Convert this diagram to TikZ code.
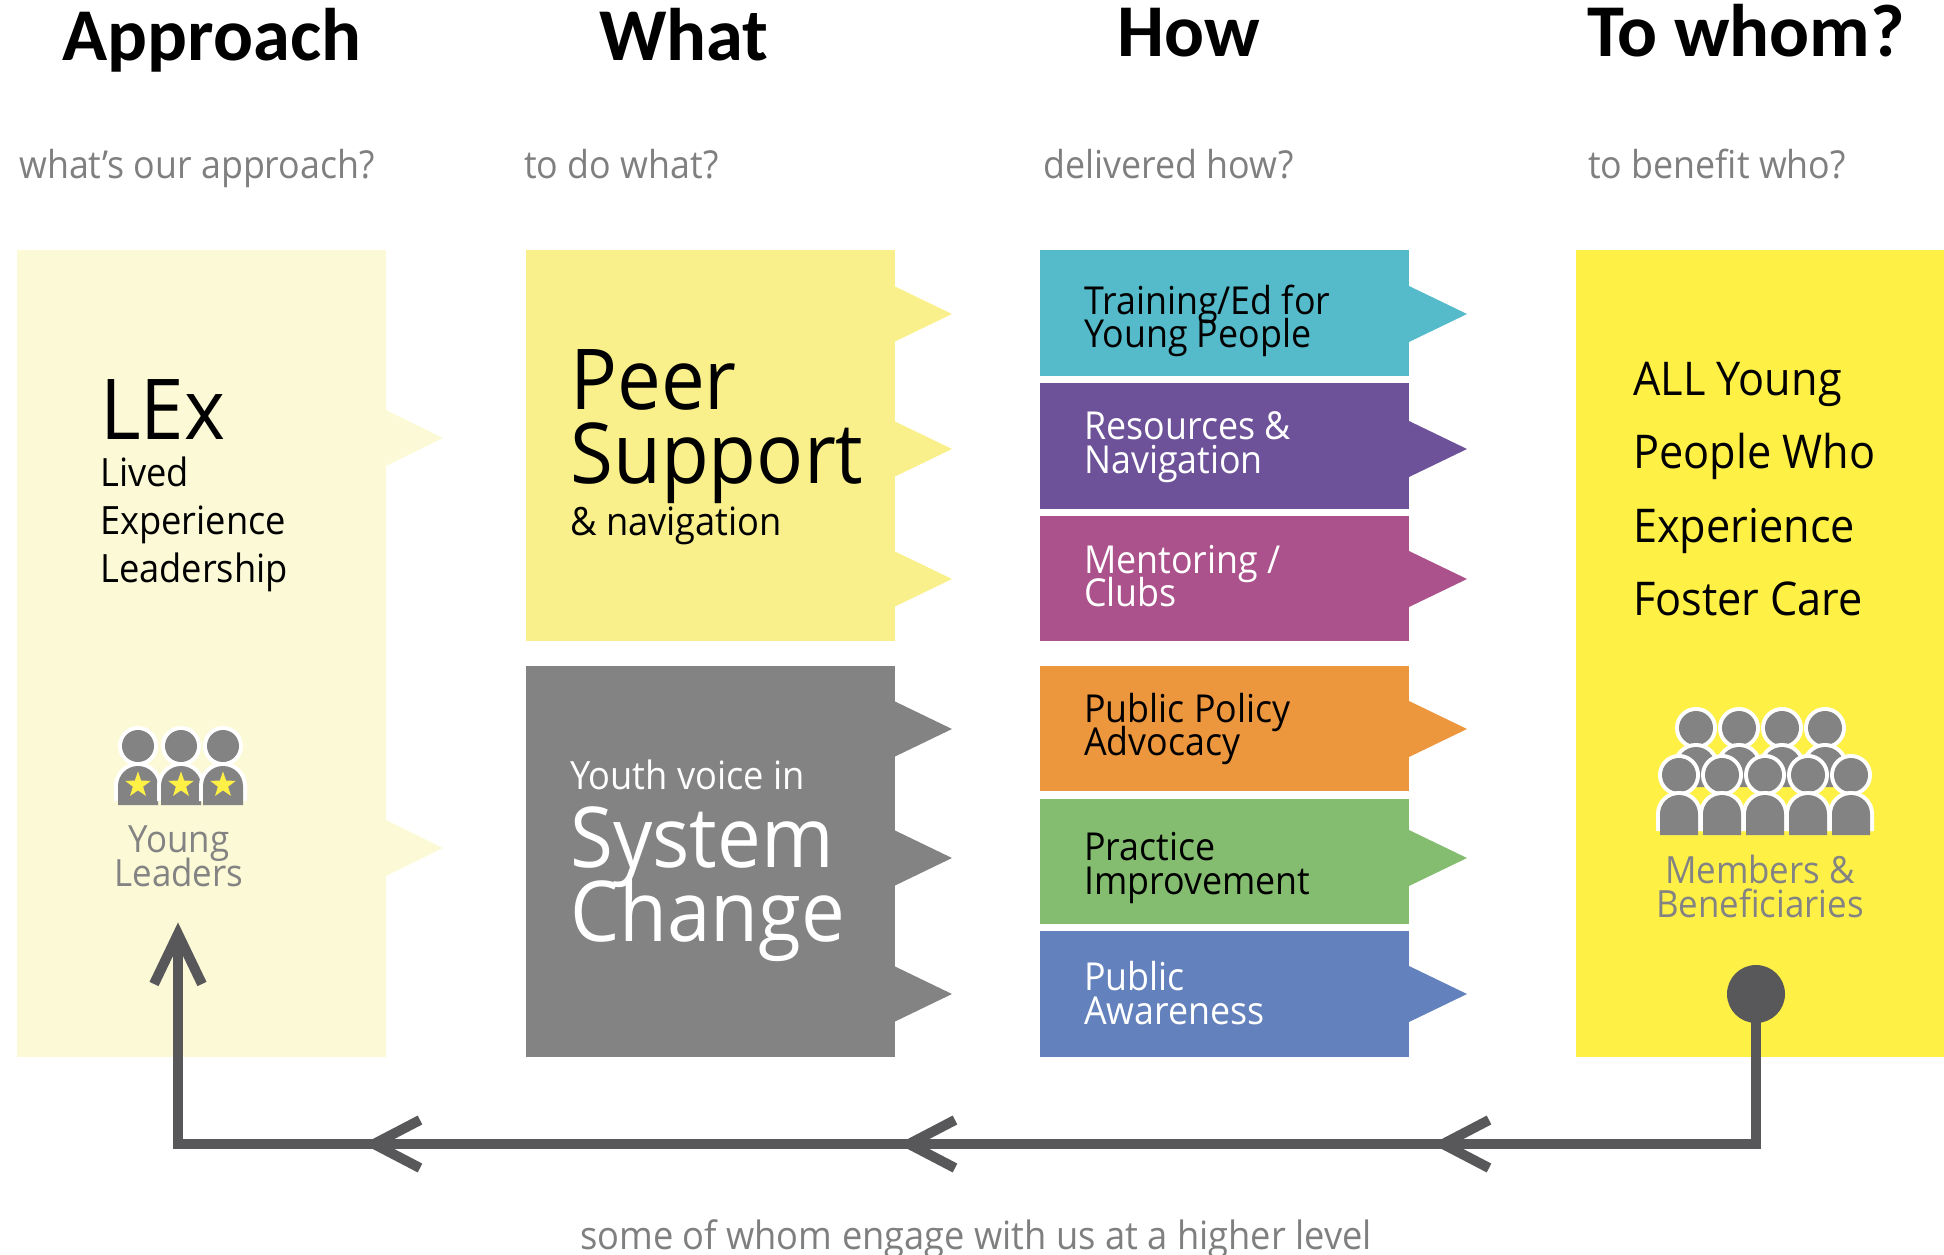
\documentclass[tikz,border=0pt]{standalone}
\usepackage{fontspec}
\setmainfont{Open Sans}[FakeStretch=0.93]
\newfontfamily\titlef{Carlito}[BoldFont={Carlito Bold}]
\usetikzlibrary{shapes.geometric,calc}
\definecolor{pale}{HTML}{FCF9D6}
\definecolor{softy}{HTML}{FAF08B}
\definecolor{midg}{HTML}{838383}
\definecolor{teal1}{HTML}{55BAC9}
\definecolor{purp1}{HTML}{6D5299}
\definecolor{mag1}{HTML}{AB518B}
\definecolor{oran1}{HTML}{EC963E}
\definecolor{gree1}{HTML}{85BD70}
\definecolor{blue1}{HTML}{6381BC}
\definecolor{brighty}{HTML}{FFF046}
\definecolor{darkl}{HTML}{58585A}
\definecolor{subg}{HTML}{7F7F7F}
\newcommand{\fs}[2]{\fontsize{#1}{#2}\selectfont\lineskiplimit=-200pt\lineskip=0pt}
\newcommand{\tabat}[4]{\fill[#4] (#1,#2-28) -- (#3,#2) -- (#1,#2+28) -- cycle;}
\newcommand{\person}[7]{% x headY r bodytop bottom hw ring
  \draw[white,line width=2*#7 pt] (#1,#2) circle[radius=#3pt];
  \fill[midg] (#1,#2) circle[radius=#3pt];
  \draw[white,line width=2*#7 pt,line join=miter] (#1-#6,#5-#7) -- (#1-#6,#4+#6) arc[start angle=180,end angle=360,radius=#6] -- (#1+#6,#5-#7);
  \fill[midg] (#1-#6,#5) -- (#1-#6,#4+#6) arc[start angle=180,end angle=360,radius=#6] -- (#1+#6,#5) -- cycle;}
\tikzset{
  x=1pt,y=-1pt,
  box/.style={anchor=north west,inner sep=0,outer sep=0,minimum width=#1},
  ttl/.style={font=\titlef\bfseries\fs{74.5}{72},text=black,inner sep=0},
  subt/.style={font=\fs{38.5}{37},text=subg,anchor=west,inner sep=0},
  rowlab/.style={font=\fs{38.5}{33.5},anchor=west,align=left,inner sep=0},
  big/.style={font=\fs{84}{74},anchor=west,align=left,inner sep=0},
  bodyl/.style={font=\fs{39}{48},anchor=west,align=left,inner sep=0},
  iconcap/.style={font=\fs{37.5}{34},text=midg,align=center,inner sep=0},
  flow/.style={draw=darkl,line width=10pt,miter limit=10},
}
\begin{document}
\begin{tikzpicture}
\useasboundingbox (0,0) rectangle (1944,1255);
% titles
\node[ttl] (t1) at (212,40) {Approach};
\node[ttl] (t2) at (684,35) {What};
\node[ttl] (t3) at (1189,33) {How};
\node[ttl] (t4) at (1746,31) {To whom?};
\node[subt] (s1) at (19,168) {what’s our approach?};
\node[subt] (s2) at (524,164) {to do what?};
\node[subt] (s3) at (1043,164) {delivered how?};
\node[subt] (s4) at (1588,164) {to benefit who?};
% column 1
\tabat{386}{438}{443}{pale}
\tabat{386}{848}{443}{pale}
\node[box=369pt,minimum height=807pt,fill=pale] (lex) at (17,250) {};
% column 2
\foreach \yy in {314,449,579}{\tabat{894}{\yy}{952}{softy}}
\foreach \yy in {729,858,994}{\tabat{894}{\yy}{952}{midg}}
\node[box=369pt,minimum height=391pt,fill=softy] (peer) at (526,250) {};
\node[box=369pt,minimum height=391pt,fill=midg] (sys) at (526,666) {};
% column 3
\tabat{1409}{314}{1467}{teal1}
\tabat{1409}{449}{1467}{purp1}
\tabat{1409}{579}{1467}{mag1}
\tabat{1409}{729}{1467}{oran1}
\tabat{1409}{858}{1467}{gree1}
\tabat{1409}{994}{1467}{blue1}
\node[box=369pt,minimum height=126pt,fill=teal1] (r1) at (1040,250) {};
\node[box=369pt,minimum height=126pt,fill=purp1] (r2) at (1040,383) {};
\node[box=369pt,minimum height=125pt,fill=mag1] (r3) at (1040,516) {};
\node[box=369pt,minimum height=125pt,fill=oran1] (r4) at (1040,666) {};
\node[box=369pt,minimum height=125pt,fill=gree1] (r5) at (1040,799) {};
\node[box=369pt,minimum height=126pt,fill=blue1] (r6) at (1040,931) {};
\node[rowlab,text=black] (l1) at (1084,321) {Training/Ed for\\Young People};
\node[rowlab,text=white] (l2) at (1084,447) {Resources \&\\Navigation};
\node[rowlab,text=white] (l3) at (1084,576) {Mentoring /\\Clubs};
\node[rowlab,text=black] (l4) at (1084,729) {Public Policy\\Advocacy};
\node[rowlab,text=black] (l5) at (1084,868) {Practice\\Improvement};
\node[rowlab,text=white] (l6) at (1084,993) {Public\\Awareness};
% column 4
\node[box=368pt,minimum height=807pt,fill=brighty] (who) at (1576,250) {};
% column 1 text
\node[font=\fs{84}{84},anchor=west,inner sep=0] (lx) at (100,410) {LEx};
\node[bodyl] (lx2) at (100,524) {Lived\\Experience\\Leadership};
% column 2 text
\node[big] (ps) at (570,427) {Peer\\Support};
\node[font=\fs{39}{38},anchor=west,inner sep=0] (nav) at (570,526) {\& navigation};
\node[font=\fs{39}{38},anchor=west,inner sep=0,text=white] (yv) at (570,775) {Youth voice in};
\node[big,text=white] (sc) at (570,884) {System\\Change};
% column 4 text
\node[font=\fs{46.5}{73.5},anchor=west,align=left,inner sep=0] (all) at (1633,489) {ALL Young\\People Who\\Experience\\Foster Care};
% icons
\foreach \xx in {138,181,223}{
  \person{\xx}{746}{16}{766}{805}{20}{4}
  \node[star,star points=5,star point ratio=2.5,fill=brighty,inner sep=0,minimum size=27pt] at (\xx,785) {};
}
\node[iconcap] (yl) at (179,856) {Young\\Leaders};
\foreach \xx in {1696,1739,1782,1825}{\person{\xx}{728}{17}{747}{787}{19}{4}}
\foreach \xx in {1679,1722,1765,1808,1851}{\person{\xx}{775}{17}{795}{835}{19}{4}}
\node[iconcap] (mb) at (1760,886) {Members \&\\Beneficiaries};
% connector
\node[circle,fill=darkl,minimum size=58pt,inner sep=0] (dot) at (1756,994) {};
\coordinate (bl) at (178,1144);
\coordinate (tip) at (178,934);
\coordinate (m1) at (1443,1144);
\coordinate (m2) at (909,1144);
\coordinate (m3) at (374,1144);
\draw[flow] (dot.center) |- (bl) -- (tip);
\draw[flow] ($(tip)+(-24,50)$) -- (tip) -- ($(tip)+(24,50)$);
\foreach \mm in {m1,m2,m3}{\draw[flow] ($(\mm)+(46,-24)$) -- (\mm) -- ($(\mm)+(46,24)$);}
\node[font=\fs{39}{38},text=subg,inner sep=0] (foot) at (976,1239) {some of whom engage with us at a higher level};
\end{tikzpicture}
\end{document}
